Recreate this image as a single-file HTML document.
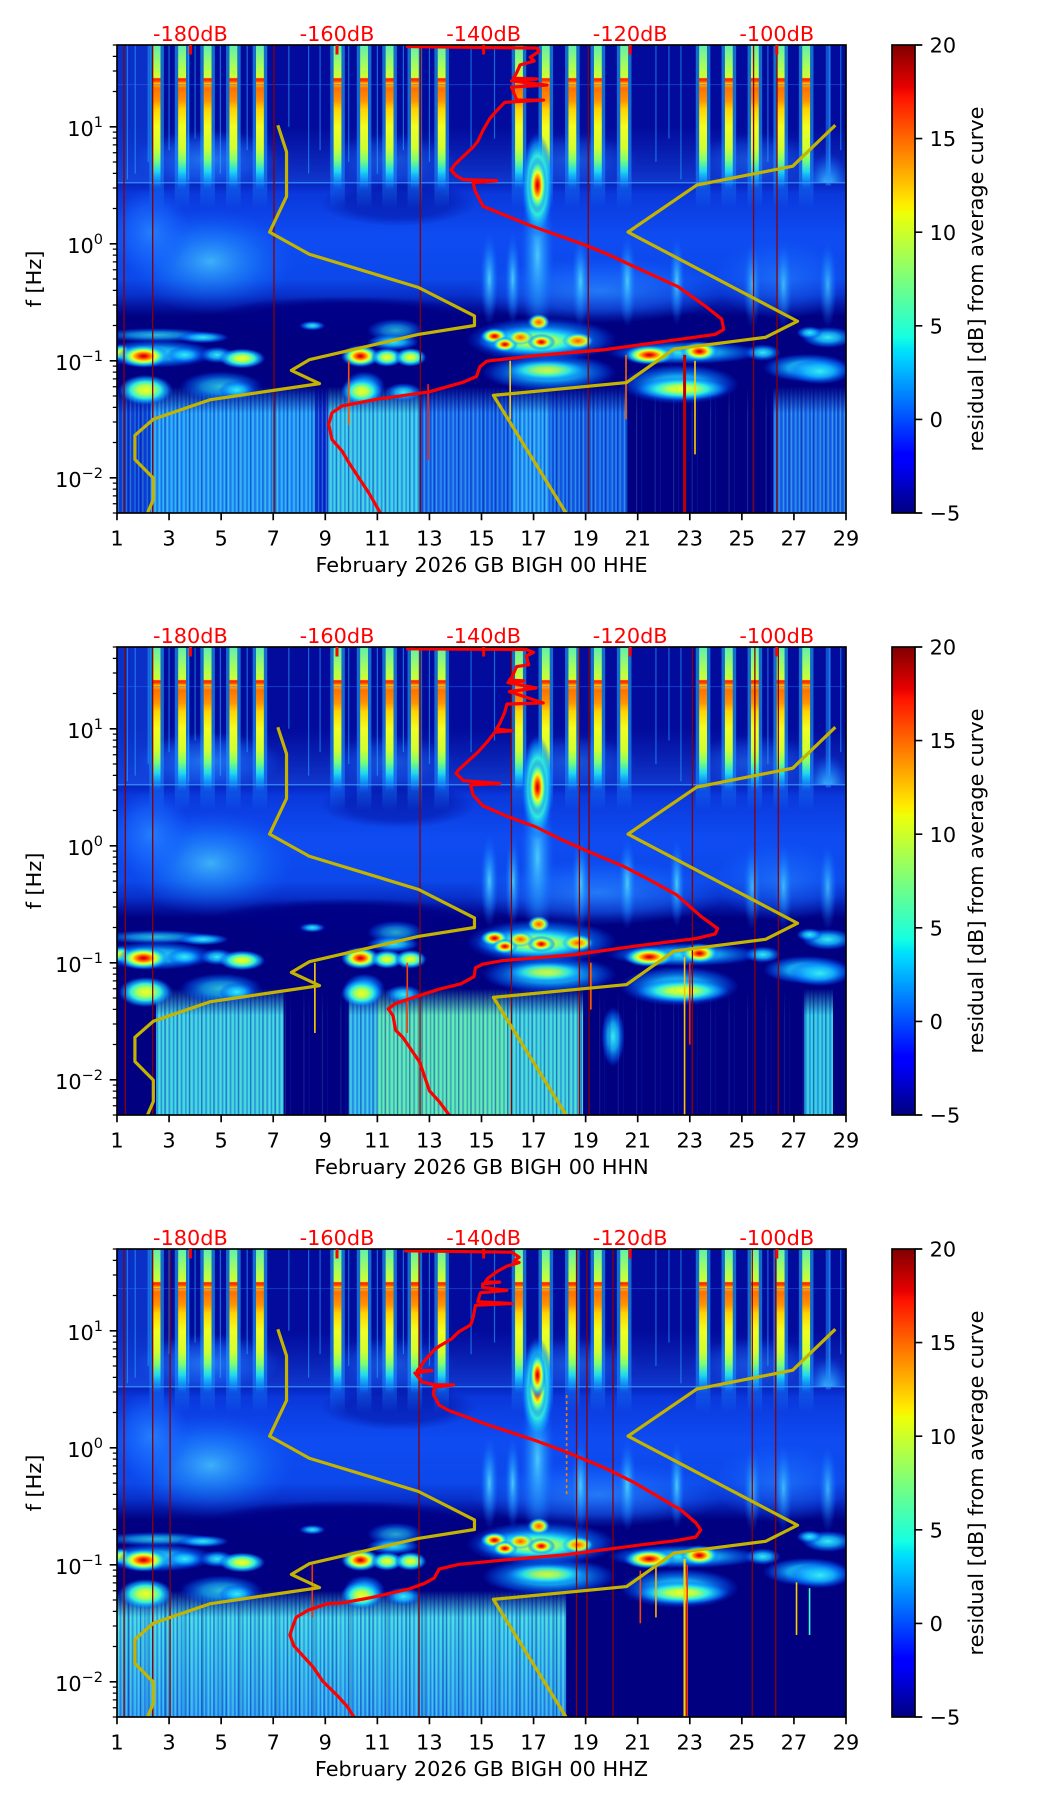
<!DOCTYPE html>
<html><head><meta charset="utf-8"><style>html,body{margin:0;padding:0;background:#fff}body{width:1052px;height:1806px;overflow:hidden}</style></head><body>
<svg width="1052" height="1806" viewBox="0 0 1052 1806" xmlns="http://www.w3.org/2000/svg" font-family="DejaVu Sans, Liberation Sans, sans-serif" font-size="20.83">
<defs>
<linearGradient id="jet" x1="0" y1="1" x2="0" y2="0">
<stop offset="0" stop-color="#000080"/><stop offset=".11" stop-color="#0000ff"/><stop offset=".125" stop-color="#0000ff"/><stop offset=".34" stop-color="#00dbff"/><stop offset=".35" stop-color="#00e5f7"/><stop offset=".375" stop-color="#15ffe2"/><stop offset=".5" stop-color="#7bff7b"/><stop offset=".64" stop-color="#eeff08"/><stop offset=".65" stop-color="#f7f500"/><stop offset=".66" stop-color="#ffec00"/><stop offset=".89" stop-color="#ff1300"/><stop offset=".91" stop-color="#e80000"/><stop offset="1" stop-color="#800000"/>
</linearGradient>
<radialGradient id="gR"><stop offset="0" stop-color="#b00000"/><stop offset=".15" stop-color="#ff2000"/><stop offset=".3" stop-color="#ff9000"/><stop offset=".45" stop-color="#f0ff20"/><stop offset=".6" stop-color="#60ffa0"/><stop offset=".78" stop-color="#10b0ff" stop-opacity=".75"/><stop offset="1" stop-color="#0050ff" stop-opacity="0"/></radialGradient>
<radialGradient id="gY"><stop offset="0" stop-color="#f4ff20"/><stop offset=".3" stop-color="#b0ff50"/><stop offset=".55" stop-color="#30f0e0"/><stop offset=".8" stop-color="#0a98ff" stop-opacity=".65"/><stop offset="1" stop-color="#0050ff" stop-opacity="0"/></radialGradient>
<radialGradient id="gO"><stop offset="0" stop-color="#ff5000"/><stop offset=".3" stop-color="#ffb000"/><stop offset=".55" stop-color="#c0ff40"/><stop offset=".8" stop-color="#20d0ff" stop-opacity=".6"/><stop offset="1" stop-color="#0060ff" stop-opacity="0"/></radialGradient>
<radialGradient id="gC"><stop offset="0" stop-color="#38ecf0"/><stop offset=".45" stop-color="#14b8ff" stop-opacity=".85"/><stop offset=".8" stop-color="#0068ff" stop-opacity=".45"/><stop offset="1" stop-color="#0040ff" stop-opacity="0"/></radialGradient>
<radialGradient id="gG"><stop offset="0" stop-color="#2a8aff" stop-opacity=".8"/><stop offset=".6" stop-color="#1a6cff" stop-opacity=".5"/><stop offset="1" stop-color="#1060ff" stop-opacity="0"/></radialGradient>
<radialGradient id="gGc"><stop offset="0" stop-color="#50d8ff" stop-opacity=".9"/><stop offset=".55" stop-color="#2094ff" stop-opacity=".5"/><stop offset="1" stop-color="#1060ff" stop-opacity="0"/></radialGradient>
<radialGradient id="gN"><stop offset="0" stop-color="#000086"/><stop offset=".65" stop-color="#000086" stop-opacity=".9"/><stop offset="1" stop-color="#000086" stop-opacity="0"/></radialGradient>
<linearGradient id="gB" gradientUnits="userSpaceOnUse" x1="0" y1="-0.52" x2="0" y2="0.62"><stop offset="0" stop-color="#0624c0"/><stop offset=".08" stop-color="#0a38dc"/><stop offset=".4" stop-color="#0e4cf2"/><stop offset=".72" stop-color="#0c48ea"/><stop offset=".84" stop-color="#0a3ad8" stop-opacity=".85"/><stop offset="1" stop-color="#0a30d0" stop-opacity="0"/></linearGradient>
<linearGradient id="gH" gradientUnits="userSpaceOnUse" x1="0" y1="-1.0" x2="0" y2="-0.52"><stop offset="0" stop-color="#1448e0" stop-opacity="0"/><stop offset="1" stop-color="#1850e8" stop-opacity=".65"/></linearGradient>
<linearGradient id="gS" gradientUnits="userSpaceOnUse" x1="0" y1="-1.699" x2="0" y2="-0.45"><stop offset="0" stop-color="#60f0b0"/><stop offset=".16" stop-color="#b0ff50"/><stop offset=".223" stop-color="#d0ff30"/><stop offset=".231" stop-color="#ff2000"/><stop offset=".247" stop-color="#ff4000"/><stop offset=".263" stop-color="#ffc000"/><stop offset=".295" stop-color="#ff7000"/><stop offset=".383" stop-color="#ff9400"/><stop offset=".44" stop-color="#ffd400"/><stop offset=".56" stop-color="#f0ff20"/><stop offset=".704" stop-color="#d0ff30"/><stop offset=".784" stop-color="#80ff70"/><stop offset=".864" stop-color="#20d8f0"/><stop offset=".944" stop-color="#0a90ff" stop-opacity=".6"/><stop offset="1" stop-color="#0050ff" stop-opacity="0"/></linearGradient>
<linearGradient id="gSh" gradientUnits="userSpaceOnUse" x1="0" y1="-1.699" x2="0" y2="-0.3"><stop offset="0" stop-color="#20c0f0" stop-opacity=".55"/><stop offset=".55" stop-color="#20b0ff" stop-opacity=".55"/><stop offset=".8" stop-color="#1890ff" stop-opacity=".55"/><stop offset="1" stop-color="#1890ff" stop-opacity="0"/></linearGradient>
<linearGradient id="gEm" gradientUnits="userSpaceOnUse" x1="0" y1="1.22" x2="0" y2="1.45"><stop offset="0" stop-color="#000"/><stop offset="1" stop-color="#fff"/></linearGradient>
<linearGradient id="gE3" gradientUnits="userSpaceOnUse" x1="0" y1="1.3" x2="0" y2="2.301"><stop offset="0" stop-color="#44e0ea"/><stop offset=".4" stop-color="#38c8f0"/><stop offset="1" stop-color="#2ca4f8"/></linearGradient>
<mask id="mE" maskUnits="userSpaceOnUse" x="0" y="-3" width="30" height="7"><rect x="0" y="-3" width="30" height="7" fill="url(#gEm)"/></mask>
<pattern id="pE" patternUnits="userSpaceOnUse" x="0" y="0" width=".47" height="4">
<rect x="0" y="0" width=".05" height="4" fill="#000090" opacity=".45"/><rect x=".1" y="0" width=".03" height="4" fill="#b0ff70" opacity=".35"/><rect x=".16" y="0" width=".06" height="4" fill="#0028d0" opacity=".35"/><rect x=".27" y="0" width=".025" height="4" fill="#90ffa0" opacity=".4"/><rect x=".33" y="0" width=".05" height="4" fill="#000090" opacity=".3"/><rect x=".41" y="0" width=".03" height="4" fill="#60ffff" opacity=".35"/>
</pattern>
<pattern id="pE2" patternUnits="userSpaceOnUse" x="0" y="0" width=".71" height="4">
<rect x="0" y="0" width=".08" height="4" fill="#000080" opacity=".3"/><rect x=".35" y="0" width=".04" height="4" fill="#80d0ff" opacity=".35"/><rect x=".55" y="0" width=".03" height="4" fill="#2060ff" opacity=".4"/>
</pattern>
<g id="st"><rect x="-.28" y="-1.699" width=".56" height="1.4" fill="url(#gSh)"/><rect x="-.15" y="-1.699" width=".3" height="1.25" fill="url(#gS)"/></g>
<g id="sBelow">
<rect x="1" y="-1.7" width="28" height="4.01" fill="#000080"/>
<rect x="1" y="-1.7" width="28" height="1.18" fill="#020b9c"/>
<rect x="1" y="-1.7" width="1.3" height="1.18" fill="#0a30c8"/>
<rect x="1" y="-1.0" width="28" height=".48" fill="url(#gH)"/>
<ellipse cx="4.5" cy="-0.72" rx="2.8" ry=".25" fill="url(#gG)"/>
<ellipse cx="11.5" cy="-0.72" rx="2.5" ry=".22" fill="url(#gG)" opacity=".6"/>
<ellipse cx="18.5" cy="-0.72" rx="2.5" ry=".22" fill="url(#gG)" opacity=".6"/>
<ellipse cx="25.5" cy="-0.72" rx="2.5" ry=".22" fill="url(#gG)" opacity=".6"/>
<ellipse cx="28.3" cy="-0.5" rx=".8" ry=".28" fill="url(#gGc)"/>
<g stroke="#28b0ff" stroke-opacity=".55" stroke-width="1.2" fill="none"><path vector-effect="non-scaling-stroke" d="M1.4 -1.7V-0.55M1.7 -1.7V-0.6M2.2 -1.7V-0.7M3.0 -1.7V-0.8M3.75 -1.7V-0.55M4.0 -1.7V-0.9M4.97 -1.7V-0.6M6.0 -1.7V-0.8M7.6 -1.7V-1.0M8.36 -1.7V-0.6M8.8 -1.7V-0.8M9.9 -1.7V-0.7M11.0 -1.7V-0.6M12.0 -1.7V-0.8M13.0 -1.7V-0.7M14.6 -1.7V-0.8M15.5 -1.7V-0.9M21.7 -1.7V-0.7M22.2 -1.7V-0.9M22.66 -1.7V-0.55M26.0 -1.7V-0.7M28.36 -1.7V-0.6M28.8 -1.7V-0.8"/></g>
<rect x="1" y="-0.52" width="28" height="1.14" fill="url(#gB)"/>
<ellipse cx="4.6" cy="0.15" rx="3.2" ry=".45" fill="url(#gGc)" opacity=".8"/>
<ellipse cx="2.3" cy="-0.1" rx="1.5" ry=".38" fill="url(#gG)"/>
<ellipse cx="26.5" cy="0.3" rx="2.6" ry=".35" fill="url(#gG)" opacity=".7"/>
<ellipse cx="11.8" cy="-0.35" rx="3" ry=".2" fill="url(#gN)" opacity=".4"/>
<ellipse cx="9.8" cy="0.62" rx="5.3" ry=".17" fill="url(#gN)"/>
<ellipse cx="19.5" cy="0.4" rx="5" ry=".28" fill="url(#gG)"/>
<g fill="url(#gGc)">
<ellipse cx="15.3" cy="0.3" rx=".35" ry=".4"/>
<ellipse cx="16.2" cy="0.3" rx=".3" ry=".4"/>
<ellipse cx="18.8" cy="0.32" rx=".35" ry=".4"/>
<ellipse cx="20.6" cy="0.32" rx=".35" ry=".4"/>
<ellipse cx="22.5" cy="0.32" rx=".3" ry=".38"/>
<ellipse cx="25.4" cy="0.35" rx=".35" ry=".38" opacity=".8"/>
<ellipse cx="26.6" cy="0.35" rx=".35" ry=".38" opacity=".8"/>
<ellipse cx="28.3" cy="0.35" rx=".35" ry=".38" opacity=".8"/>
</g>
<ellipse cx="17.15" cy="0.1" rx=".65" ry=".75" fill="url(#gGc)"/>
<use href="#st" x="2.52"/><use href="#st" x="3.5"/><use href="#st" x="4.48"/><use href="#st" x="5.47"/><use href="#st" x="6.49"/>
<use href="#st" x="9.47"/><use href="#st" x="10.49"/><use href="#st" x="11.47"/><use href="#st" x="12.44"/><use href="#st" x="13.47"/>
<use href="#st" x="16.44"/><use href="#st" x="17.47"/><use href="#st" x="18.49"/><use href="#st" x="19.47"/><use href="#st" x="20.48"/>
<use href="#st" x="23.51"/><use href="#st" x="24.5"/><use href="#st" x="25.5"/><use href="#st" x="26.49"/><use href="#st" x="27.47"/>
<rect x="28.22" y="-1.699" width=".2" height="1.2" fill="#2090ff" opacity=".5"/>
<path d="M1 -0.522H29" stroke="#3fa0ff" stroke-opacity=".7" stroke-width="1.5" vector-effect="non-scaling-stroke"/>
<path d="M1 -1.36H29" stroke="#2a70ff" stroke-opacity=".45" stroke-width="1" vector-effect="non-scaling-stroke"/>
<ellipse cx="17.15" cy="-0.5" rx=".62" ry=".45" fill="url(#gY)"/>
<ellipse cx="17.15" cy="-0.5" rx=".38" ry=".25" fill="url(#gR)"/>
</g>
<g id="sAbove">
<ellipse cx="2.5" cy=".78" rx="2.2" ry=".06" fill="url(#gC)" opacity=".8"/>
<ellipse cx="4.3" cy=".8" rx="1" ry=".05" fill="url(#gC)"/>
<ellipse cx="8.5" cy=".7" rx=".5" ry=".04" fill="url(#gC)"/>
<ellipse cx="11.7" cy=".74" rx="1.1" ry=".1" fill="url(#gC)" opacity=".7"/>
<ellipse cx="2.5" cy=".94" rx="2.3" ry=".12" fill="url(#gC)"/>
<ellipse cx="5" cy="1.22" rx="1.6" ry=".13" fill="url(#gC)" opacity=".8"/>
<ellipse cx="10.5" cy="1.22" rx=".8" ry=".13" fill="url(#gC)"/>
<ellipse cx="17.6" cy="1.1" rx="2.6" ry=".16" fill="url(#gC)"/>
<ellipse cx="22.6" cy="1.2" rx="2.3" ry=".17" fill="url(#gC)"/>
<ellipse cx="27.5" cy="1.06" rx="1.7" ry=".12" fill="url(#gC)"/>
<ellipse cx="1.15" cy=".93" rx=".4" ry=".07" fill="url(#gY)"/>
<ellipse cx="2.02" cy=".96" rx="1" ry=".1" fill="url(#gR)"/>
<ellipse cx="3.6" cy=".95" rx=".7" ry=".07" fill="url(#gC)"/>
<ellipse cx="4.84" cy=".95" rx=".65" ry=".07" fill="url(#gC)"/>
<ellipse cx="5.8" cy=".98" rx=".9" ry=".085" fill="url(#gY)"/>
<ellipse cx="11.6" cy=".84" rx="1" ry=".07" fill="url(#gC)"/>
<ellipse cx="10.35" cy=".96" rx=".75" ry=".095" fill="url(#gR)"/>
<ellipse cx="11.37" cy=".97" rx=".62" ry=".08" fill="url(#gY)"/>
<ellipse cx="12.27" cy=".97" rx=".62" ry=".08" fill="url(#gY)"/>
<ellipse cx="2.1" cy="1.25" rx="1.05" ry=".13" fill="url(#gY)"/>
<ellipse cx="5.6" cy="1.25" rx=".7" ry=".08" fill="url(#gC)"/>
<ellipse cx="10.4" cy="1.26" rx=".8" ry=".12" fill="url(#gY)"/>
<ellipse cx="12" cy="1.27" rx=".7" ry=".08" fill="url(#gC)"/>
<ellipse cx="17.5" cy="1.08" rx="1.6" ry=".09" fill="url(#gY)" opacity=".8"/>
<ellipse cx="17.3" cy=".82" rx="2.9" ry=".19" fill="url(#gC)"/>
<ellipse cx="17.1" cy=".83" rx="2.3" ry=".13" fill="url(#gY)"/>
<ellipse cx="15.5" cy=".79" rx=".55" ry=".07" fill="url(#gR)"/>
<ellipse cx="15.9" cy=".86" rx=".5" ry=".065" fill="url(#gR)"/>
<ellipse cx="17.3" cy=".84" rx=".55" ry=".07" fill="url(#gR)"/>
<ellipse cx="17.2" cy=".67" rx=".42" ry=".07" fill="url(#gO)"/>
<ellipse cx="18.7" cy=".83" rx=".6" ry=".07" fill="url(#gO)"/>
<ellipse cx="16.5" cy=".8" rx=".5" ry=".065" fill="url(#gO)"/>
<ellipse cx="22.8" cy=".93" rx="3" ry=".1" fill="url(#gC)"/>
<ellipse cx="21.45" cy=".95" rx="1" ry=".085" fill="url(#gR)"/>
<ellipse cx="23.37" cy=".92" rx=".75" ry=".085" fill="url(#gR)"/>
<ellipse cx="25.8" cy=".93" rx=".7" ry=".07" fill="url(#gC)"/>
<ellipse cx="28.3" cy=".8" rx="1" ry=".09" fill="url(#gC)"/>
<ellipse cx="27.6" cy=".76" rx=".5" ry=".055" fill="url(#gC)"/>
<ellipse cx="22.7" cy="1.24" rx="1.8" ry=".1" fill="url(#gY)"/>
<ellipse cx="28" cy="1.09" rx="1.2" ry=".11" fill="url(#gC)"/>
</g>
<g id="yl" fill="none" stroke="#c4b400" stroke-width="3.2" stroke-linejoin="round">
<polyline vector-effect="non-scaling-stroke" points="367,300 385,375 385,500 350,600 432,662 657,755 773,835 773,862 657,887 432,958 395,988 453,1025 228,1070 110,1125 72,1170 72,1238 110,1290 110,1350 98,1388"/>
<polyline vector-effect="non-scaling-stroke" points="1518,300 1430,415 1232,468 1090,600 1440,850 1374,895 1185,928 1087,1022 812,1058 962,1388"/>
</g>
<g id="tk">
<rect x="892" y="45" width="23" height="468" fill="url(#jet)" stroke="#000" stroke-width="1.67"/>
<rect x="117" y="45" width="729" height="468" fill="none" stroke="#000" stroke-width="1.67"/>
<path fill="none" stroke="#000" stroke-width="1.67" d="M117 513v7.3M169.07 513v7.3M221.14 513v7.3M273.21 513v7.3M325.29 513v7.3M377.36 513v7.3M429.43 513v7.3M481.5 513v7.3M533.57 513v7.3M585.64 513v7.3M637.71 513v7.3M689.79 513v7.3M741.86 513v7.3M793.93 513v7.3M846 513v7.3M117 126.78h-7.3M117 243.78h-7.3M117 360.78h-7.3M117 477.78h-7.3M915 45h7.3M915 138.6h7.3M915 232.2h7.3M915 325.8h7.3M915 419.4h7.3M915 513h7.3"/>
<path fill="none" stroke="#000" stroke-width="1.25" d="M117 91.56h-4.2M117 70.96h-4.2M117 56.34h-4.2M117 45h-4.2M117 208.56h-4.2M117 187.96h-4.2M117 173.34h-4.2M117 162h-4.2M117 152.74h-4.2M117 144.9h-4.2M117 138.12h-4.2M117 132.14h-4.2M117 325.56h-4.2M117 304.96h-4.2M117 290.34h-4.2M117 279h-4.2M117 269.74h-4.2M117 261.9h-4.2M117 255.12h-4.2M117 249.14h-4.2M117 442.56h-4.2M117 421.96h-4.2M117 407.34h-4.2M117 396h-4.2M117 386.74h-4.2M117 378.9h-4.2M117 372.12h-4.2M117 366.14h-4.2M117 513h-4.2M117 503.74h-4.2M117 495.9h-4.2M117 489.12h-4.2M117 483.14h-4.2"/>
<g fill="#ff0000"><rect x="188.9" y="45" width="3" height="9.5"/><rect x="335.5" y="45" width="3" height="9.5"/><rect x="482.1" y="45" width="3" height="9.5"/><rect x="628.7" y="45" width="3" height="9.5"/><rect x="775.3" y="45" width="3" height="9.5"/></g>
</g>
</defs>

<!-- ===== PANEL 1 ===== -->
<svg x="117" y="45" width="729" height="468" viewBox="1 -1.699 28 4" preserveAspectRatio="none">
<use href="#sBelow"/>
<g mask="url(#mE)">
<rect x="1" y="1.1" width="1.3" height="1.3" fill="#0a44dc"/>
<rect x="2.3" y="1.1" width="6.3" height="1.3" fill="#24a0ff"/>
<rect x="8.6" y="1.1" width=".5" height="1.3" fill="#0a34d4"/>
<rect x="9.1" y="1.1" width="3.5" height="1.3" fill="#38c8f0"/>
<rect x="12.6" y="1.1" width="2.4" height="1.3" fill="#1a70f4"/>
<rect x="15" y="1.1" width="5.6" height="1.3" fill="#1466ee"/>
<rect x="16.2" y="1.1" width="1.4" height="1.3" fill="#26a0ff"/>
<rect x="26.2" y="1.1" width="2.8" height="1.3" fill="#1a70f0"/>
<rect x="1" y="1.1" width="19.6" height="1.3" fill="url(#pE)"/>
<rect x="26.2" y="1.1" width="2.8" height="1.3" fill="url(#pE)"/>
<rect x="20.6" y="1.1" width="5.6" height="1.3" fill="url(#pE2)" opacity=".6"/>
</g>
<use href="#sAbove"/>
<g fill="none" stroke-width="1.6">
<path vector-effect="non-scaling-stroke" stroke="#ff5000" d="M9.9 1V1.55"/>
<path vector-effect="non-scaling-stroke" stroke="#ff2000" d="M12.95 1.2V1.85"/>
<path vector-effect="non-scaling-stroke" stroke="#ffd000" d="M16.1 1V1.5"/>
<path vector-effect="non-scaling-stroke" stroke="#ff6000" d="M20.55 .95V1.5"/>
<path vector-effect="non-scaling-stroke" stroke="#c00000" stroke-width="3" d="M22.8 .95V2.3"/>
<path vector-effect="non-scaling-stroke" stroke="#ffd000" d="M23.2 1V1.8"/>
<path vector-effect="non-scaling-stroke" stroke="#8b0000" stroke-width="1.3" d="M1.27 -2V3M2.37 -2V3M7.03 -2V3M12.65 -2V3M19.1 -2V3M25.45 -2V3M26.35 -2V3"/>
</g>
</svg>
<svg x="117" y="45" width="729" height="468" viewBox="35 75 1505 1313" preserveAspectRatio="none"><use href="#yl"/></svg>
<svg x="117" y="45" width="729" height="468" viewBox="175 118 1085 1224" preserveAspectRatio="none">
<polyline fill="none" stroke="#ff0000" stroke-width="3.2" stroke-linejoin="round" vector-effect="non-scaling-stroke" points="605,122 800,126 803,135 790,150 796,160 775,170 770,190 765,205 800,207 762,212 815,223 762,228 770,262 810,262 752,268 740,290 730,310 720,340 712,370 705,385 690,410 678,430 672,445 680,460 690,470 740,473 705,478 708,500 720,540 790,590 870,640 905,665 960,710 1010,750 1050,800 1075,835 1078,862 1065,875 900,915 800,930 725,945 715,960 710,985 690,1000 640,1025 560,1045 510,1062 495,1080 490,1110 495,1150 510,1180 520,1210 535,1250 550,1290 567,1342"/>
</svg>
<use href="#tk"/>
<g fill="#ff0000" text-anchor="middle"><text x="190.4" y="41">-180dB</text><text x="337" y="41">-160dB</text><text x="483.6" y="41">-140dB</text><text x="630.2" y="41">-120dB</text><text x="776.8" y="41">-100dB</text></g>
<g fill="#000" text-anchor="middle"><text x="117" y="545.5">1</text><text x="169.07" y="545.5">3</text><text x="221.14" y="545.5">5</text><text x="273.21" y="545.5">7</text><text x="325.29" y="545.5">9</text><text x="377.36" y="545.5">11</text><text x="429.43" y="545.5">13</text><text x="481.5" y="545.5">15</text><text x="533.57" y="545.5">17</text><text x="585.64" y="545.5">19</text><text x="637.71" y="545.5">21</text><text x="689.79" y="545.5">23</text><text x="741.86" y="545.5">25</text><text x="793.93" y="545.5">27</text><text x="846" y="545.5">29</text>
<text x="481.5" y="572">February 2026 GB BIGH 00 HHE</text>
<text transform="translate(41 279) rotate(-90)">f [Hz]</text>
<text transform="translate(983 279) rotate(-90)">residual [dB] from average curve</text></g>
<g fill="#000" text-anchor="end"><text x="103" y="135.8">10<tspan dy="-9" font-size="14.5">1</tspan></text><text x="103" y="252.8">10<tspan dy="-9" font-size="14.5">0</tspan></text><text x="103" y="369.8">10<tspan dy="-9" font-size="14.5">−1</tspan></text><text x="103" y="486.8">10<tspan dy="-9" font-size="14.5">−2</tspan></text></g>
<g fill="#000"><text x="929.6" y="52.6">20</text><text x="929.6" y="146.2">15</text><text x="929.6" y="239.8">10</text><text x="929.6" y="333.4">5</text><text x="929.6" y="427">0</text><text x="929.6" y="520.6">−5</text></g>

<!-- ===== PANEL 2 ===== -->
<svg x="117" y="647" width="729" height="468" viewBox="1 -1.699 28 4" preserveAspectRatio="none">
<use href="#sBelow"/>
<g mask="url(#mE)">
<rect x="2.5" y="1.1" width="4.9" height="1.3" fill="#3ccfe6"/>
<rect x="9.9" y="1.1" width="1.1" height="1.3" fill="#30b8f0"/>
<rect x="11" y="1.1" width="5" height="1.3" fill="#5ae6b8"/>
<rect x="16" y="1.1" width="2.9" height="1.3" fill="#40d4e0"/>
<ellipse cx="20.05" cy="1.63" rx=".45" ry=".26" fill="url(#gC)"/>
<rect x="27.4" y="1.1" width="1.1" height="1.3" fill="#30c8e8"/>
<rect x="2.5" y="1.1" width="4.9" height="1.3" fill="url(#pE)"/>
<rect x="9.9" y="1.1" width="9" height="1.3" fill="url(#pE)"/>
<rect x="7.4" y="1.1" width="2.5" height="1.3" fill="url(#pE2)" opacity=".5"/>
<rect x="18.9" y="1.1" width="8.5" height="1.3" fill="url(#pE2)" opacity=".4"/>
<rect x="27.4" y="1.1" width="1.1" height="1.3" fill="url(#pE)"/>
</g>
<use href="#sAbove"/>
<g fill="none" stroke-width="1.6">
<path vector-effect="non-scaling-stroke" stroke="#ffd000" d="M8.6 1V1.6"/>
<path vector-effect="non-scaling-stroke" stroke="#ff4000" d="M12.15 1V1.6"/>
<path vector-effect="non-scaling-stroke" stroke="#ffc000" d="M22.8 .95V2.3"/>
<path vector-effect="non-scaling-stroke" stroke="#ff2000" d="M23 1V1.7"/>
<path vector-effect="non-scaling-stroke" stroke="#ff6000" d="M19.2 1V1.4"/>
<path vector-effect="non-scaling-stroke" stroke="#8b0000" stroke-width="1.3" d="M1.32 -2V3M2.37 -2V3M12.64 -2V3M16.15 -2V3M18.76 -2V3M19.13 -2V3M23.1 -2V3M25.5 -2V3M26.4 -2V3"/>
</g>
</svg>
<svg x="117" y="647" width="729" height="468" viewBox="35 75 1505 1313" preserveAspectRatio="none"><use href="#yl"/></svg>
<svg x="117" y="647" width="729" height="468" viewBox="35 75 1505 1313" preserveAspectRatio="none">
<polyline fill="none" stroke="#ff0000" stroke-width="3.2" stroke-linejoin="round" vector-effect="non-scaling-stroke" points="632,80 880,82 895,90 880,100 885,125 860,130 850,160 845,168 875,170 842,175 900,190 845,200 915,232 840,235 835,260 825,290 818,305 850,310 815,314 800,340 780,370 760,395 740,420 735,430 750,450 825,458 765,462 770,490 790,520 840,550 900,580 960,620 1010,650 1080,690 1130,725 1190,770 1240,830 1275,865 1270,880 1230,893 1100,915 980,938 830,955 790,965 775,975 772,1000 745,1020 700,1035 610,1075 595,1090 605,1110 610,1150 625,1170 640,1200 660,1240 670,1280 680,1320 700,1350 722,1390"/>
</svg>
<use href="#tk" y="602"/>
<g fill="#ff0000" text-anchor="middle"><text x="190.4" y="643">-180dB</text><text x="337" y="643">-160dB</text><text x="483.6" y="643">-140dB</text><text x="630.2" y="643">-120dB</text><text x="776.8" y="643">-100dB</text></g>
<g fill="#000" text-anchor="middle"><text x="117" y="1147.5">1</text><text x="169.07" y="1147.5">3</text><text x="221.14" y="1147.5">5</text><text x="273.21" y="1147.5">7</text><text x="325.29" y="1147.5">9</text><text x="377.36" y="1147.5">11</text><text x="429.43" y="1147.5">13</text><text x="481.5" y="1147.5">15</text><text x="533.57" y="1147.5">17</text><text x="585.64" y="1147.5">19</text><text x="637.71" y="1147.5">21</text><text x="689.79" y="1147.5">23</text><text x="741.86" y="1147.5">25</text><text x="793.93" y="1147.5">27</text><text x="846" y="1147.5">29</text>
<text x="481.5" y="1174">February 2026 GB BIGH 00 HHN</text>
<text transform="translate(41 881) rotate(-90)">f [Hz]</text>
<text transform="translate(983 881) rotate(-90)">residual [dB] from average curve</text></g>
<g fill="#000" text-anchor="end"><text x="103" y="737.8">10<tspan dy="-9" font-size="14.5">1</tspan></text><text x="103" y="854.8">10<tspan dy="-9" font-size="14.5">0</tspan></text><text x="103" y="971.8">10<tspan dy="-9" font-size="14.5">−1</tspan></text><text x="103" y="1088.8">10<tspan dy="-9" font-size="14.5">−2</tspan></text></g>
<g fill="#000"><text x="929.6" y="654.6">20</text><text x="929.6" y="748.2">15</text><text x="929.6" y="841.8">10</text><text x="929.6" y="935.4">5</text><text x="929.6" y="1029">0</text><text x="929.6" y="1122.6">−5</text></g>

<!-- ===== PANEL 3 ===== -->
<svg x="117" y="1249" width="729" height="468" viewBox="1 -1.699 28 4" preserveAspectRatio="none">
<use href="#sBelow"/>
<ellipse cx="17.15" cy="-0.62" rx=".32" ry=".2" fill="url(#gR)"/>
<g mask="url(#mE)">
<rect x="1" y="1.1" width="17.25" height="1.3" fill="url(#gE3)"/>
<rect x="1" y="1.1" width="17.25" height="1.3" fill="url(#pE)"/>
<rect x="1" y="1.1" width="17.25" height="1.3" fill="url(#pE2)" opacity=".6"/>
</g>
<use href="#sAbove"/>
<g fill="none" stroke-width="1.6">
<path vector-effect="non-scaling-stroke" stroke="#ffd000" stroke-width="2.2" d="M22.8 .95V2.31"/>
<path vector-effect="non-scaling-stroke" stroke="#ff3000" d="M22.9 1V2.31"/>
<path vector-effect="non-scaling-stroke" stroke="#ff4000" d="M21.1 1.05V1.5"/>
<path vector-effect="non-scaling-stroke" stroke="#ffb000" d="M21.7 1V1.45"/>
<path vector-effect="non-scaling-stroke" stroke="#ffd000" d="M27.1 1.15V1.6"/>
<path vector-effect="non-scaling-stroke" stroke="#40ffd0" d="M27.6 1.2V1.6"/>
<path vector-effect="non-scaling-stroke" stroke="#ff3000" d="M8.5 1V1.45"/>
<path vector-effect="non-scaling-stroke" stroke="#ff8000" stroke-dasharray="3 3" d="M18.27 -0.45V0.42"/>
<path vector-effect="non-scaling-stroke" stroke="#8b0000" stroke-width="1.3" d="M1.27 -2V3M2.37 -2V3M3.04 -2V3M12.6 -2V3M18.65 -2V3M19.05 -2V3M20.05 -2V3M25.4 -2V3M26.3 -2V3"/>
</g>
</svg>
<svg x="117" y="1249" width="729" height="468" viewBox="35 75 1505 1313" preserveAspectRatio="none"><use href="#yl"/></svg>
<svg x="117" y="1249" width="729" height="468" viewBox="35 67 1505 1313" preserveAspectRatio="none">
<polyline fill="none" stroke="#ff0000" stroke-width="3.2" stroke-linejoin="round" vector-effect="non-scaling-stroke" points="628,72 850,76 865,90 855,100 865,105 840,115 820,130 800,150 795,160 825,160 790,165 790,175 840,183 785,190 780,215 850,220 775,225 770,260 765,280 740,300 725,320 700,340 690,350 670,380 660,400 655,408 685,408 650,415 665,440 690,448 730,448 690,455 688,475 700,505 720,520 800,560 900,605 960,635 1040,680 1100,720 1150,760 1200,800 1230,835 1240,855 1230,875 1190,885 1100,900 960,925 830,940 740,952 700,965 690,990 670,1005 640,1020 560,1045 500,1060 470,1062 430,1080 405,1100 398,1125 392,1150 400,1180 420,1210 440,1240 460,1280 490,1320 510,1350 525,1382"/>
</svg>
<use href="#tk" y="1204"/>
<g fill="#ff0000" text-anchor="middle"><text x="190.4" y="1245">-180dB</text><text x="337" y="1245">-160dB</text><text x="483.6" y="1245">-140dB</text><text x="630.2" y="1245">-120dB</text><text x="776.8" y="1245">-100dB</text></g>
<g fill="#000" text-anchor="middle"><text x="117" y="1749.5">1</text><text x="169.07" y="1749.5">3</text><text x="221.14" y="1749.5">5</text><text x="273.21" y="1749.5">7</text><text x="325.29" y="1749.5">9</text><text x="377.36" y="1749.5">11</text><text x="429.43" y="1749.5">13</text><text x="481.5" y="1749.5">15</text><text x="533.57" y="1749.5">17</text><text x="585.64" y="1749.5">19</text><text x="637.71" y="1749.5">21</text><text x="689.79" y="1749.5">23</text><text x="741.86" y="1749.5">25</text><text x="793.93" y="1749.5">27</text><text x="846" y="1749.5">29</text>
<text x="481.5" y="1776">February 2026 GB BIGH 00 HHZ</text>
<text transform="translate(41 1483) rotate(-90)">f [Hz]</text>
<text transform="translate(983 1483) rotate(-90)">residual [dB] from average curve</text></g>
<g fill="#000" text-anchor="end"><text x="103" y="1339.8">10<tspan dy="-9" font-size="14.5">1</tspan></text><text x="103" y="1456.8">10<tspan dy="-9" font-size="14.5">0</tspan></text><text x="103" y="1573.8">10<tspan dy="-9" font-size="14.5">−1</tspan></text><text x="103" y="1690.8">10<tspan dy="-9" font-size="14.5">−2</tspan></text></g>
<g fill="#000"><text x="929.6" y="1256.6">20</text><text x="929.6" y="1350.2">15</text><text x="929.6" y="1443.8">10</text><text x="929.6" y="1537.4">5</text><text x="929.6" y="1631">0</text><text x="929.6" y="1724.6">−5</text></g>
</svg>
</body></html>
